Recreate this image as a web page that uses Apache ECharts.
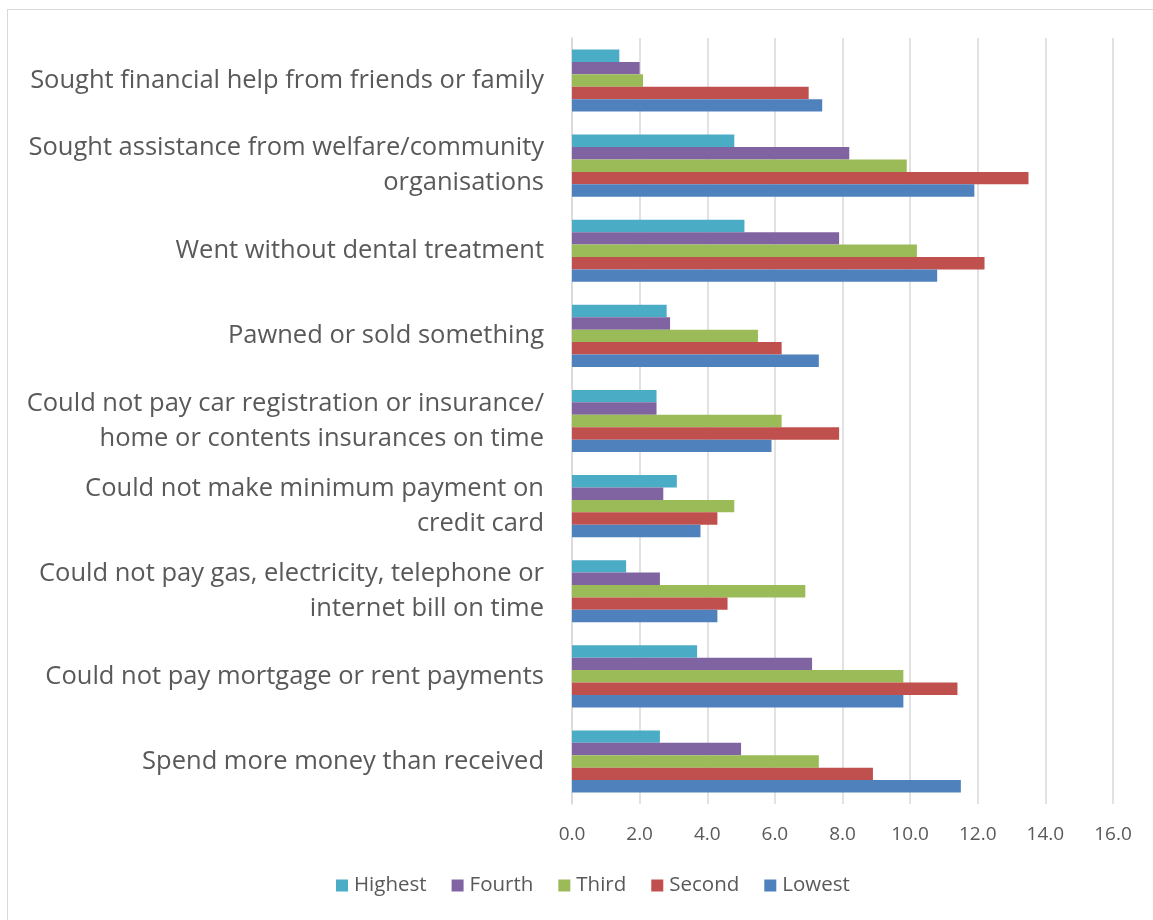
<!DOCTYPE html>
<html>
<head>
<meta charset="utf-8">
<script src="https://cdn.jsdelivr.net/npm/echarts@6/dist/echarts.min.js"></script>
<style>
html,body{margin:0;padding:0;background:#fff;}
#frame{position:absolute;left:7px;top:9px;width:1150px;height:912px;border:1px solid #d9d9d9;box-sizing:border-box;}
#chart{position:absolute;left:0;top:0;width:1153px;height:920px;}
</style>
</head>
<body>
<div id="frame"></div>
<div id="chart"></div>
<script>
// Categories bottom-to-top
const categories = [
  "Spend more money than received",
  "Could not pay mortgage or rent payments",
  "Could not pay gas, electricity, telephone or\ninternet bill on time",
  "Could not make minimum payment on\ncredit card",
  "Could not pay car registration or insurance/\nhome or contents insurances on time",
  "Pawned or sold something",
  "Went without dental treatment",
  "Sought assistance from welfare/community\norganisations",
  "Sought financial help from friends or family"
];
const seriesNames = ["Highest", "Fourth", "Third", "Second", "Lowest"];
const highest = [2.6, 3.7, 1.6, 3.1, 2.5, 2.8, 5.1, 4.8, 1.4];
const fourth  = [5.0, 7.1, 2.6, 2.7, 2.5, 2.9, 7.9, 8.2, 2.0];
const third   = [7.3, 9.8, 6.9, 4.8, 6.2, 5.5, 10.2, 9.9, 2.1];
const second  = [8.9, 11.4, 4.6, 4.3, 7.9, 6.2, 12.2, 13.5, 7.0];
const lowest  = [11.5, 9.8, 4.3, 3.8, 5.9, 7.3, 10.8, 11.9, 7.4];
const xTicks = { min: 0, max: 16, interval: 2 };
const colors = { Highest: "#4BACC6", Fourth: "#8064A2", Third: "#9BBB59", Second: "#C0504D", Lowest: "#4F81BD" };
const values = { Highest: highest, Fourth: fourth, Third: third, Second: second, Lowest: lowest };

const chart = echarts.init(document.getElementById('chart'));
const font = "'Open Sans', sans-serif";
chart.setOption({
  animation: false,
  textStyle: { fontFamily: font },
  grid: { left: 572, right: 40, top: 38, bottom: 116, containLabel: false },
  legend: {
    data: seriesNames.map(n => ({ name: n })),
    bottom: 19,
    left: 331,
    itemWidth: 12, itemHeight: 12, itemGap: 25,
    icon: 'rect',
    textStyle: { color: '#595959', fontSize: 20.5, fontFamily: font, padding: [0, 0, 0, 1] }
  },
  xAxis: {
    type: 'value', min: xTicks.min, max: xTicks.max, interval: xTicks.interval,
    axisLine: { show: false },
    axisTick: { show: false },
    splitLine: { show: true, lineStyle: { color: '#d9d9d9', width: 1.5 } },
    axisLabel: { color: '#595959', fontSize: 19, margin: 21, fontFamily: font,
      formatter: v => v.toFixed(1) }
  },
  yAxis: {
    type: 'category', data: categories,
    axisLine: { show: true, lineStyle: { color: '#d9d9d9', width: 1.5 } },
    axisTick: { show: false },
    axisLabel: { color: '#595959', fontSize: 25.5, lineHeight: 35, margin: 28, align: 'right', fontFamily: font }
  },
  series: seriesNames.map(n => ({
    name: n, type: 'bar', data: values[n],
    barGap: '0%', barCategoryGap: '27%',
    itemStyle: { color: colors[n] }
  }))
});
</script>
</body>
</html>
